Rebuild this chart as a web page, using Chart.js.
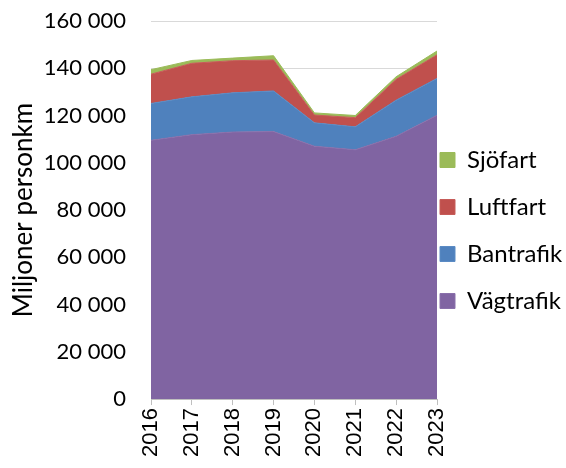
<!DOCTYPE html>
<html>
<head>
<meta charset="utf-8">
<script src="https://cdn.jsdelivr.net/npm/chart.js@4"></script>
<style>
  body { margin: 0; background: #fff; }
</style>
</head>
<body>
<canvas id="myChart" width="566" height="468"></canvas>
<script>
// miljoner personkm per trafikslag
const years = ["2016", "2017", "2018", "2019", "2020", "2021", "2022", "2023"];
const vagtrafik = [109500, 111900, 113000, 113200, 107000, 105500, 111200, 120100];
const bantrafik = [15600, 16000, 16600, 17200, 9900, 9700, 15300, 15600];
const luftfart = [12400, 14200, 13600, 13100, 3300, 3900, 8800, 10000];
const sjofart = [1900, 1200, 1100, 1800, 900, 900, 1100, 1600];
const yTicks = [0, 20000, 40000, 60000, 80000, 100000, 120000, 140000, 160000];

const textFont = "Lato, 'Open Sans', sans-serif";

function fmt(v) {
  return String(v).replace(/\B(?=(\d{3})+(?!\d))/g, " ");
}

// flytta legenden närmare diagrammet
const legendShift = {
  id: "legendShift",
  afterLayout(chart) {
    chart.legend.left -= 20;
    chart.legend.top -= 10;
    chart.legend.bottom -= 10;
  }
};

const ctx = document.getElementById("myChart").getContext("2d");
const myChart = new Chart(ctx, {
  type: "line",
  data: {
    labels: years,
    datasets: [
      { label: "Vägtrafik", data: vagtrafik, backgroundColor: "#8064A2", borderColor: "#8a70ab", fill: "origin" },
      { label: "Bantrafik", data: bantrafik, backgroundColor: "#4F81BD", borderColor: "#5b8bc4", fill: "-1" },
      { label: "Luftfart", data: luftfart, backgroundColor: "#C0504D", borderColor: "#c65c59", fill: "-1" },
      { label: "Sjöfart", data: sjofart, backgroundColor: "#9BBB59", borderColor: "#9BBB59", fill: "-1" }
    ]
  },
  options: {
    responsive: false,
    animation: false,
    elements: {
      point: { radius: 0 },
      line: { borderWidth: 1, tension: 0 }
    },
    layout: { padding: { top: 21, right: -14, left: 8, bottom: 8 } },
    plugins: {
      tooltip: { enabled: false },
      legend: {
        position: "right",
        reverse: true,
        labels: {
          boxWidth: 15,
          boxHeight: 15,
          padding: 23,
          color: "#000",
          font: { family: textFont, size: 24 }
        }
      }
    },
    scales: {
      x: {
        offset: false,
        grid: { drawOnChartArea: false, drawTicks: true, tickLength: 6, color: "#bfbfbf" },
        border: { color: "#bfbfbf" },
        ticks: {
          maxRotation: 90,
          minRotation: 90,
          padding: 3,
          color: "#000",
          font: { family: "'Liberation Sans', Arial, sans-serif", size: 22 }
        }
      },
      y: {
        stacked: true,
        min: 0,
        max: 160000,
        afterBuildTicks(axis) {
          axis.ticks = yTicks.map(v => ({ value: v }));
        },
        grid: { color: "#d9d9d9", drawTicks: true, tickLength: 23, tickColor: "rgba(0,0,0,0)" },
        border: { display: false },
        title: {
          display: true,
          text: "Miljoner personkm",
          color: "#000",
          font: { family: textFont, size: 26 },
          padding: { top: 0, bottom: 5 }
        },
        ticks: {
          padding: 2,
          color: "#000",
          font: { family: textFont, size: 22 },
          callback: (v) => fmt(v)
        }
      }
    }
  },
  plugins: [legendShift]
});
</script>
</body>
</html>
